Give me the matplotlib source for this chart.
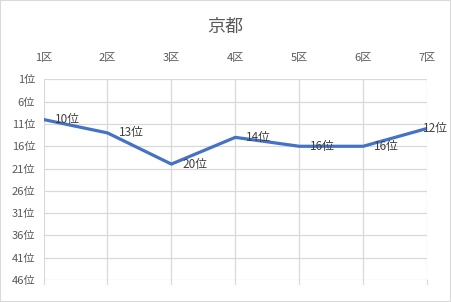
import numpy as np
import matplotlib
matplotlib.use("Agg")
import matplotlib.pyplot as plt

plt.rcParams['font.family'] = ['Noto Sans CJK JP', 'DejaVu Sans']

# data
districts = ['1区', '2区', '3区', '4区', '5区', '6区', '7区']
ranks = [10, 13, 20, 14, 16, 16, 12]
title = '京都'
ytick_vals = [1, 6, 11, 16, 21, 26, 31, 36, 41, 46]


def main():
    fig = plt.figure(figsize=(4.51, 3.02), dpi=100)
    ax = fig.add_axes([0.0965, 0.073, 0.8505, 0.664])

    x = np.arange(len(districts))
    ax.plot(x, ranks, color='#4472C4', lw=2.3, solid_joinstyle='round', zorder=3)

    # data labels to the right of each point, last one pulled back inside
    for i, r in enumerate(ranks):
        dx = 8 if i < len(ranks) - 1 else -3
        ax.annotate('%d位' % r, (x[i], r), xytext=(dx, 0), textcoords='offset points',
                    ha='left', va='center', fontsize=8.5, color='#404040', zorder=4)

    ax.set_xlim(0, len(districts) - 1)
    ax.set_ylim(46, 1)
    ax.set_xticks(x)
    ax.set_xticklabels(districts)
    ax.xaxis.tick_top()
    ax.set_yticks(ytick_vals)
    ax.set_yticklabels(['%d位' % v for v in ytick_vals])

    ax.grid(True, color='#D9D9D9', lw=0.9)
    ax.set_axisbelow(True)
    for s in ax.spines.values():
        s.set_visible(False)
    ax.tick_params(axis='both', length=0, labelsize=8, labelcolor='#595959')
    ax.tick_params(axis='x', pad=12)
    ax.tick_params(axis='y', pad=6)

    # small ticks below the bottom gridline
    for xi in x:
        ax.plot([xi, xi], [46, 47], color='#D9D9D9', lw=0.9, clip_on=False)

    fig.text(0.5, 0.91, title, ha='center', va='center', fontsize=13, color='#595959')

    fig.patches.append(plt.Rectangle((0, 0), 1, 1, transform=fig.transFigure,
                                     fill=False, edgecolor='#D9D9D9', lw=1.5))
    fig.savefig('out.png', dpi=100)


if __name__ == "__main__":
    main()
